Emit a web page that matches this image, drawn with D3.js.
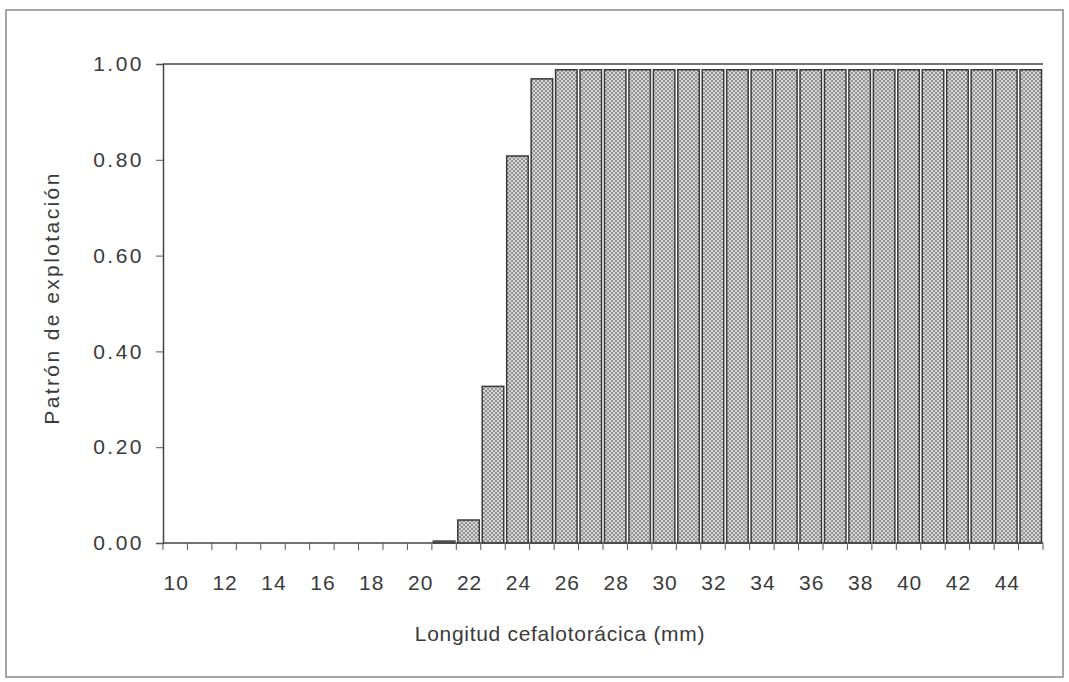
<!DOCTYPE html>
<html>
<head>
<meta charset="utf-8">
<script src="https://cdn.jsdelivr.net/npm/d3@7"></script>
<style>
  body { margin: 0; background: #fff; }
  text { font-family: "Liberation Sans", Arial, sans-serif; fill: #3a3a3a; }
</style>
</head>
<body>
<div id="chart"></div>
<script>
// longitud cefalotoracica (mm), one bar per mm
var lengths = d3.range(10, 46);
var exploitation = [
  0, 0, 0, 0, 0, 0, 0, 0, 0, 0, 0,          // 10-20
  0.004, 0.048, 0.327, 0.808, 0.969,        // 21-25
  0.988, 0.988, 0.988, 0.988, 0.988,        // 26-30
  0.988, 0.988, 0.988, 0.988, 0.988,        // 31-35
  0.988, 0.988, 0.988, 0.988, 0.988,        // 36-40
  0.988, 0.988, 0.988, 0.988, 0.988         // 41-45
];
var yTicks = [0, 0.2, 0.4, 0.6, 0.8, 1.0];
var xLabels = d3.range(10, 45, 2);

var total_width = 1069, total_height = 682;
var margin = {top: 64, right: 26, bottom: 139, left: 163},
    width = total_width - margin.left - margin.right,
    height = total_height - margin.top - margin.bottom;

var svg = d3.select("#chart").append("svg")
    .attr("width", total_width)
    .attr("height", total_height);

// stippled fill like the printed figure
var defs = svg.append("defs");
var pat = defs.append("pattern")
    .attr("id", "stipple")
    .attr("width", 4).attr("height", 4)
    .attr("patternUnits", "userSpaceOnUse");
pat.append("rect").attr("width", 4).attr("height", 4).attr("fill", "#d6d6d6");
pat.append("rect").attr("width", 2).attr("height", 2).attr("fill", "#929292");
pat.append("rect").attr("x", 2).attr("y", 2).attr("width", 2).attr("height", 2).attr("fill", "#929292");

// outer frame
svg.append("rect")
    .attr("x", 6).attr("y", 10)
    .attr("width", 1057).attr("height", 667)
    .attr("fill", "none")
    .attr("stroke", "#888")
    .attr("stroke-width", 1.5);

var g = svg.append("g")
    .attr("transform", "translate(" + margin.left + "," + margin.top + ")");

var x = d3.scaleBand()
    .domain(lengths)
    .range([0, width])
    .paddingInner(0.12)
    .paddingOuter(0.06);

var y = d3.scaleLinear()
    .domain([0, 1])
    .range([height, 0]);

// top frame line at 1.00
g.append("line")
    .attr("x1", 0).attr("x2", width)
    .attr("y1", y(1)).attr("y2", y(1))
    .attr("stroke", "#444")
    .attr("stroke-width", 1.5);

// bars
g.selectAll(".bar")
    .data(lengths)
    .enter().append("rect")
    .attr("class", "bar")
    .attr("x", function(d) { return x(d); })
    .attr("y", function(d, i) { return y(exploitation[i]); })
    .attr("width", x.bandwidth())
    .attr("height", function(d, i) { return height - y(exploitation[i]); })
    .attr("fill", "url(#stipple)")
    .attr("stroke", function(d, i) { return exploitation[i] > 0 ? "#3a3a3a" : "none"; })
    .attr("stroke-width", 1.5);

// Y axis
var yAxis = g.append("g")
    .call(d3.axisLeft(y).tickValues(yTicks).tickFormat(d3.format(".2f")).tickSizeOuter(0).tickSize(7).tickPadding(12));
yAxis.select(".domain").attr("stroke", "#444").attr("stroke-width", 1.5);
yAxis.selectAll(".tick line").attr("stroke", "#555");
yAxis.selectAll("text")
    .style("font-size", "21px")
    .style("letter-spacing", "2.5px")
    .attr("fill", "#3a3a3a");

// X axis: ticks at bar boundaries, labels every 2 mm
var step = x.step();
var xAxisG = g.append("g").attr("transform", "translate(0," + height + ")");
xAxisG.append("line")
    .attr("x1", 0).attr("x2", width)
    .attr("stroke", "#444").attr("stroke-width", 1.5);
xAxisG.selectAll(".xtick")
    .data(lengths.concat([lengths[lengths.length - 1] + 1]))
    .enter().append("line")
    .attr("class", "xtick")
    .attr("x1", function(d) { return d <= 45 ? x(d) - step * 0.06 : width; })
    .attr("x2", function(d) { return d <= 45 ? x(d) - step * 0.06 : width; })
    .attr("y1", 0).attr("y2", 7)
    .attr("stroke", "#555");
xAxisG.selectAll(".xlab")
    .data(xLabels)
    .enter().append("text")
    .attr("class", "xlab")
    .attr("x", function(d) { return x(d) + x.bandwidth() / 2 + 1; })
    .attr("y", 47)
    .attr("text-anchor", "middle")
    .style("font-size", "21px")
    .style("letter-spacing", "1px")
    .text(function(d) { return d; });

// titles
svg.append("text")
    .attr("x", 560).attr("y", 641)
    .attr("text-anchor", "middle")
    .style("font-size", "21px")
    .style("letter-spacing", "0.7px")
    .text("Longitud cefalotorácica (mm)");

svg.append("text")
    .attr("transform", "translate(59,298) rotate(-90)")
    .attr("text-anchor", "middle")
    .style("font-size", "21px")
    .style("letter-spacing", "2.4px")
    .text("Patrón de explotación");
</script>
</body>
</html>
